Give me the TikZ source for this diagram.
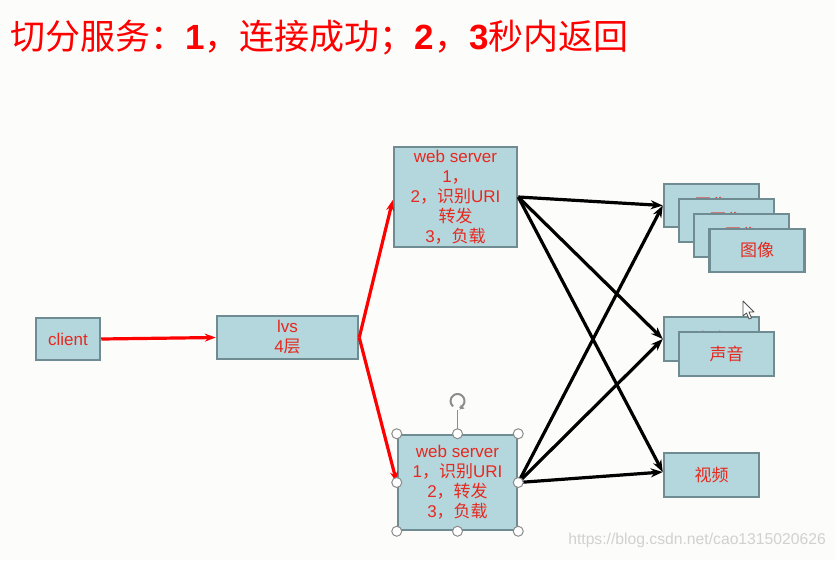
\documentclass[tikz,border=0pt]{standalone}
\usepackage{fontspec}
\setmainfont{Liberation Sans}
\newfontfamily\cjk{Noto Sans CJK SC}
\usetikzlibrary{arrows.meta,calc}
\definecolor{boxfill}{RGB}{180,215,222}
\definecolor{boxline}{RGB}{110,140,145}
\definecolor{txtred}{RGB}{230,40,30}
\definecolor{bg}{RGB}{252,252,250}
\definecolor{handle}{RGB}{140,140,140}
\begin{document}
\begin{tikzpicture}[x=1pt,y=-1pt,
  box/.style={draw=boxline, line width=2.5pt, fill=boxfill, text=txtred, font=\fontsize{17}{20}\selectfont, align=center, inner sep=0pt},
  redarrow/.style={draw=red, line width=3.2pt, -{Stealth[length=11pt,width=8pt]}},
  blackarrow/.style={draw=black, line width=3.2pt, -{Stealth[length=12pt,width=9pt]}},
  hnd/.style={circle, draw=handle, fill=white, line width=1pt, minimum size=10pt, inner sep=0pt}]
\fill[bg] (0,0) rectangle (835,560);
\useasboundingbox (0,0) rectangle (835,560);

\node[anchor=west, text=red, font=\fontsize{35}{37}\selectfont, inner sep=0pt] (title) at (10,38)
 {{\cjk 切分服务：}\textbf{1}{\cjk ，连接成功；}\textbf{2}{\cjk ，}\textbf{3}{\cjk 秒内返回}};

\node[box, minimum width=64pt, minimum height=42pt] (client) at (68,339) {client};
\node[box, minimum width=141pt, minimum height=43pt] (lvs) at (287.5,337.5) {lvs\\4{\cjk 层}};

\node[box, minimum width=123pt, minimum height=100pt] (wsA) at (455.5,197) {web server\\1{\cjk ，}\\2{\cjk ，识别}URI\\{\cjk 转发}\\3{\cjk ，负载}};
\node[box, minimum width=119pt, minimum height=95pt] (wsB) at (457.5,482.5) {web server\\1{\cjk ，识别}URI\\2{\cjk ，转发}\\3{\cjk ，负载}};

\node[box, minimum width=95pt, minimum height=43pt] (img1) at (711.5,205.5) {{\cjk 图像}};
\node[box, minimum width=95pt, minimum height=43pt] (img2) at (726.5,220.5) {{\cjk 图像}};
\node[box, minimum width=95pt, minimum height=43pt] (img3) at (741.5,235.5) {{\cjk 图像}};
\node[box, minimum width=95pt, minimum height=43pt] (img4) at (757,250.5) {{\cjk 图像}};

\node[box, minimum width=95pt, minimum height=44pt] (snd1) at (711.5,339) {{\cjk 声音}};
\node[box, minimum width=95pt, minimum height=44pt] (snd2) at (726.5,354) {{\cjk 声音}};

\node[box, minimum width=95pt, minimum height=44pt] (vid) at (711.5,475) {{\cjk 视频}};

\draw[redarrow] (client.east) -- (lvs.west);
\draw[redarrow] (lvs.east) -- ($(wsA.west)+(0,3)$);
\draw[redarrow] (lvs.east) -- (wsB.west);

\draw[blackarrow] (wsA.east) -- (img1.west);
\draw[blackarrow] (wsA.east) -- (snd1.west);
\draw[blackarrow] (wsA.east) -- ($(vid.west)+(0,-3)$);
\draw[blackarrow] (wsB.east) -- (img1.west);
\draw[blackarrow] (wsB.east) -- (snd1.west);
\draw[blackarrow] (wsB.east) -- ($(vid.west)+(0,-3)$);

% selection handles
\coordinate (rot) at (457.5,401);
\draw[handle, line width=1pt] (wsB.north) -- ($(rot)+(0,9)$);
\draw[handle, line width=2pt] ($(rot)+(60:7)$) arc[start angle=-60, end angle=230, radius=7pt];
\draw[handle, line width=1.5pt, -{Stealth[length=5pt,width=5pt]}] ($(rot)+(2,6)$) -- ++(5,1.5);
\foreach \a in {north west,north,north east,west,east,south west,south,south east}
  \node[hnd] at (wsB.\a) {};

% mouse cursor
\draw[fill=white, draw=black!70, line width=0.8pt, line join=round]
  (743,301) -- (743,316) -- (746.5,313) -- (749,319) -- (751.5,318) -- (749,312) -- (754,312) -- cycle;

\node[anchor=east, text=black!18, font=\fontsize{15.7}{17}\selectfont, inner sep=0pt] (wm) at (826,540) {https://blog.csdn.net/cao1315020626};
\end{tikzpicture}
\end{document}
